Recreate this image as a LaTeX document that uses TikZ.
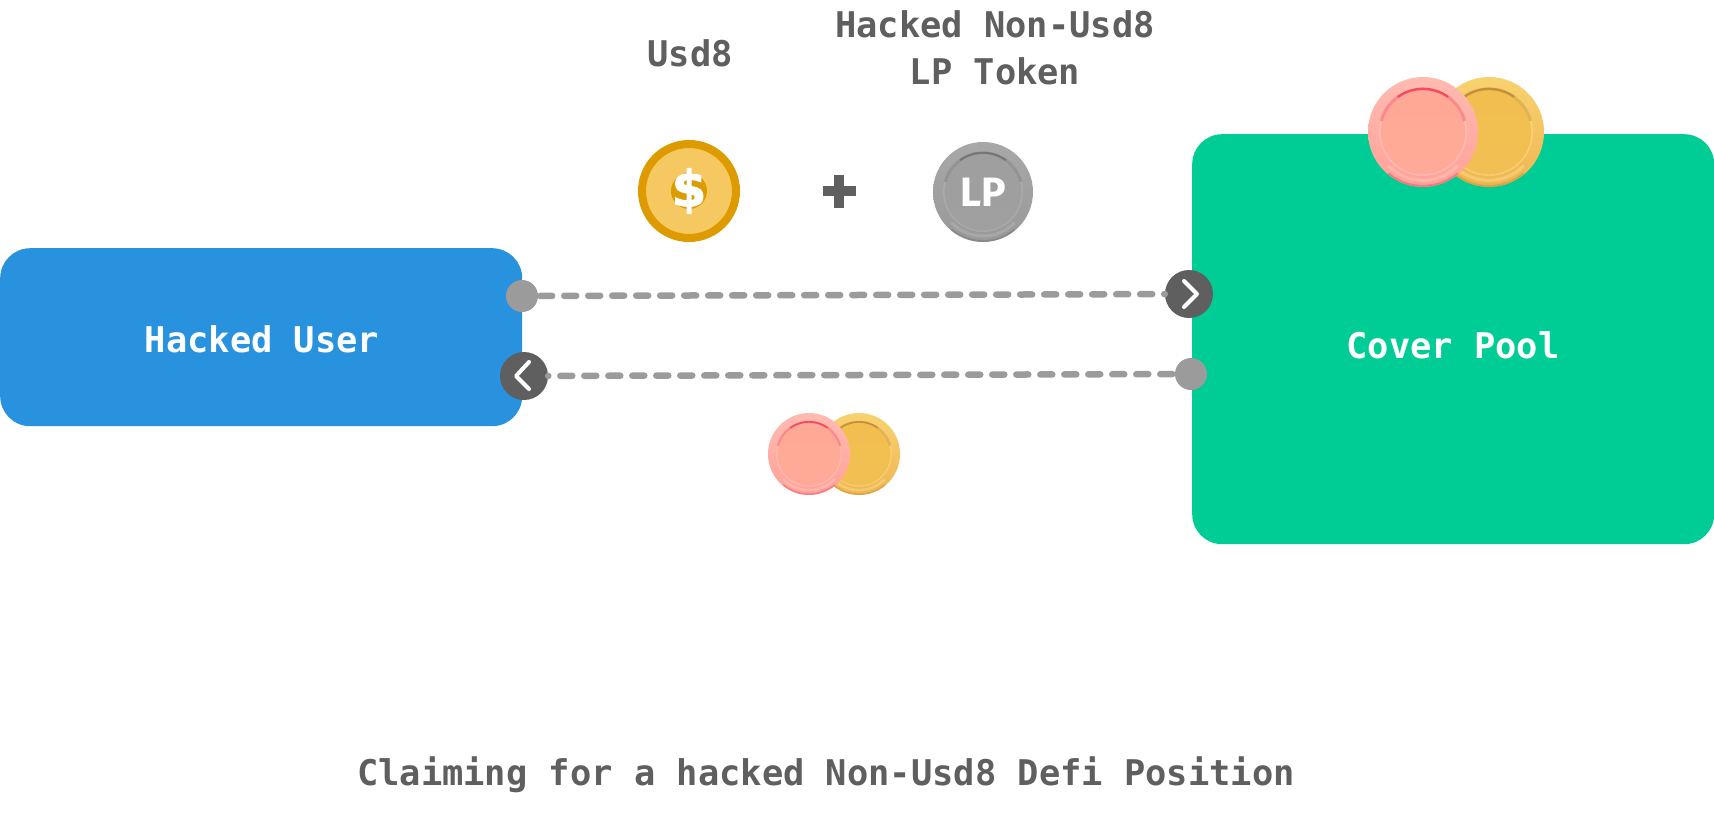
\documentclass[tikz,border=0pt]{standalone}
\usepackage{fontspec}
\setmainfont{DejaVu Sans Mono}
\newfontfamily\iconfont{Fira Sans}
\newfontfamily\dollarfont[BoldFeatures={FakeBold=2}]{DejaVu Sans}
\definecolor{inkgrey}{HTML}{5F5F5F}
\definecolor{dotgrey}{HTML}{9B9B9B}
\definecolor{userblue}{HTML}{2892DF}
\definecolor{poolgreen}{HTML}{00CC96}
\definecolor{pinkA}{HTML}{FFBBB1}\definecolor{pinkB}{HTML}{FFA198}\definecolor{pinkC}{HTML}{FFA896}\definecolor{pinkD}{HTML}{F2304F}\definecolor{pinkE}{HTML}{FFC6BC}
\definecolor{goldA}{HTML}{F8D270}\definecolor{goldB}{HTML}{EFB652}\definecolor{goldC}{HTML}{F2BE50}\definecolor{goldD}{HTML}{B97F2C}\definecolor{goldE}{HTML}{FBDC88}
\definecolor{usdA}{HTML}{DE9B00}\definecolor{usdB}{HTML}{F6C862}
\definecolor{lpA}{HTML}{A8A8A8}\definecolor{lpB}{HTML}{999999}\definecolor{lpC}{HTML}{9F9F9F}\definecolor{lpD}{HTML}{6A6A6A}\definecolor{lpE}{HTML}{B4B4B4}
\tikzset{
  labeltext/.style={font=\bfseries\fontsize{35.4}{47}\selectfont,text=inkgrey,align=center,inner sep=0pt},
  boxtext/.style={font=\bfseries\fontsize{35.4}{47}\selectfont,text=white,align=center,inner sep=0pt},
  portdot/.style={circle,fill=dotgrey,minimum size=32pt,inner sep=0pt},
  portarrow/.style={circle,fill=inkgrey,minimum size=48pt,inner sep=0pt},
  chevron/.style={draw=white,line width=4pt,line cap=round,line join=round},
  flowline/.style={draw=dotgrey,line width=6.5pt,line cap=round},
  bigbox/.style={rectangle,rounded corners=30pt,inner sep=0pt,anchor=north west}
}
% name, x, y, radius, palette
\newcommand{\mycoin}[5]{%
  \node[circle,minimum size=#4*2pt,inner sep=0pt,top color=#5A,bottom color=#5B] (#1) at (#2,#3) {};
  \draw[#5D,opacity=.35,line width=#4*0.035pt] (#2,#3) ++(50:#4*0.98) arc[start angle=50,end angle=130,radius=#4*0.98];
  \shade[top color=#5C,bottom color=#5C!92!#5A] (#2,#3) circle[radius=#4*0.77];
  \draw[#5E,opacity=.55,line width=#4*0.03pt] (#2,#3) circle[radius=#4*0.785];
  \draw[#5D,opacity=.35,line width=#4*0.05pt] (#2,#3) ++(195:#4*0.785) arc[start angle=195,end angle=345,radius=#4*0.785];
  \draw[#5D,opacity=.7,line width=#4*0.04pt,line cap=round] (#2,#3) ++(235:#4*0.785) arc[start angle=235,end angle=305,radius=#4*0.785];
  \draw[#5E,opacity=.5,line width=#4*0.06pt,line cap=round] (#2,#3) ++(45:#4*0.88) arc[start angle=45,end angle=135,radius=#4*0.88];
}
\begin{document}
\begin{tikzpicture}[x=1pt,y=-1pt]
\useasboundingbox (0,0) rectangle (1714,814);
\fill[white] (0,0) rectangle (1714,814);

\node[bigbox,fill=userblue,minimum width=522pt,minimum height=178pt] (user) at (0,248) {};
\node[bigbox,fill=poolgreen,minimum width=522pt,minimum height=410pt] (pool) at (1192,134) {};
\node[boxtext] (userlabel) at (262,339) {Hacked User};
\node[boxtext] (poollabel) at (1453,345) {Cover Pool};

% coins on the pool
\mycoin{poolgold}{1489}{132}{55}{gold}
\mycoin{poolpink}{1423}{132}{55}{pink}

% ports
\node[portdot] (userout) at (522,296) {};
\node[portarrow] (poolin) at (1189,294) {};
\node[portdot] (poolout) at (1191,374) {};
\node[portarrow] (userin) at (524,376) {};
\draw[chevron] (1184,281) -- (1197,294) -- (1184,307);
\draw[chevron] (529,362) -- (516,376) -- (529,389);

% connectors
\draw[flowline,dash pattern=on 12pt off 12pt,dash phase=22pt] (userout) -- (poolin);
\draw[flowline,dash pattern=on 12pt off 12pt,dash phase=21.5pt] (poolout) -- (userin);

% small coins
\mycoin{smallgold}{859}{454}{41}{gold}
\mycoin{smallpink}{809}{454}{41}{pink}

% Usd8 coin
\node[circle,fill=usdB,draw=usdA,line width=8pt,minimum size=94pt,inner sep=0pt] (usdcoin) at (689,191) {};
\fill[usdA] (689,191) circle[radius=18];
\node[inner sep=0pt,text=white,font=\dollarfont\bfseries\fontsize{50}{50}\selectfont] (usdsign) at (689,191) {\$};

% plus
\node[rectangle,fill=inkgrey,minimum width=33pt,minimum height=10pt,inner sep=0pt] (plusa) at (839,191) {};
\node[rectangle,fill=inkgrey,minimum width=10pt,minimum height=33pt,inner sep=0pt] (plusb) at (839,191) {};

% LP coin
\mycoin{lpcoin}{983}{192}{50}{lp}
\node[inner sep=0pt,text=white,font=\iconfont\bfseries\fontsize{41}{41}\selectfont] (lptext) at (983,192) {LP};

% labels
\node[labeltext] (usdlabel) at (690,53) {Usd8};
\node[labeltext] (lplabel) at (995,48) {Hacked Non-Usd8\\LP Token};
\node[labeltext] (title) at (826,775) {Claiming for a hacked Non-Usd8 Defi Position};
\end{tikzpicture}
\end{document}
